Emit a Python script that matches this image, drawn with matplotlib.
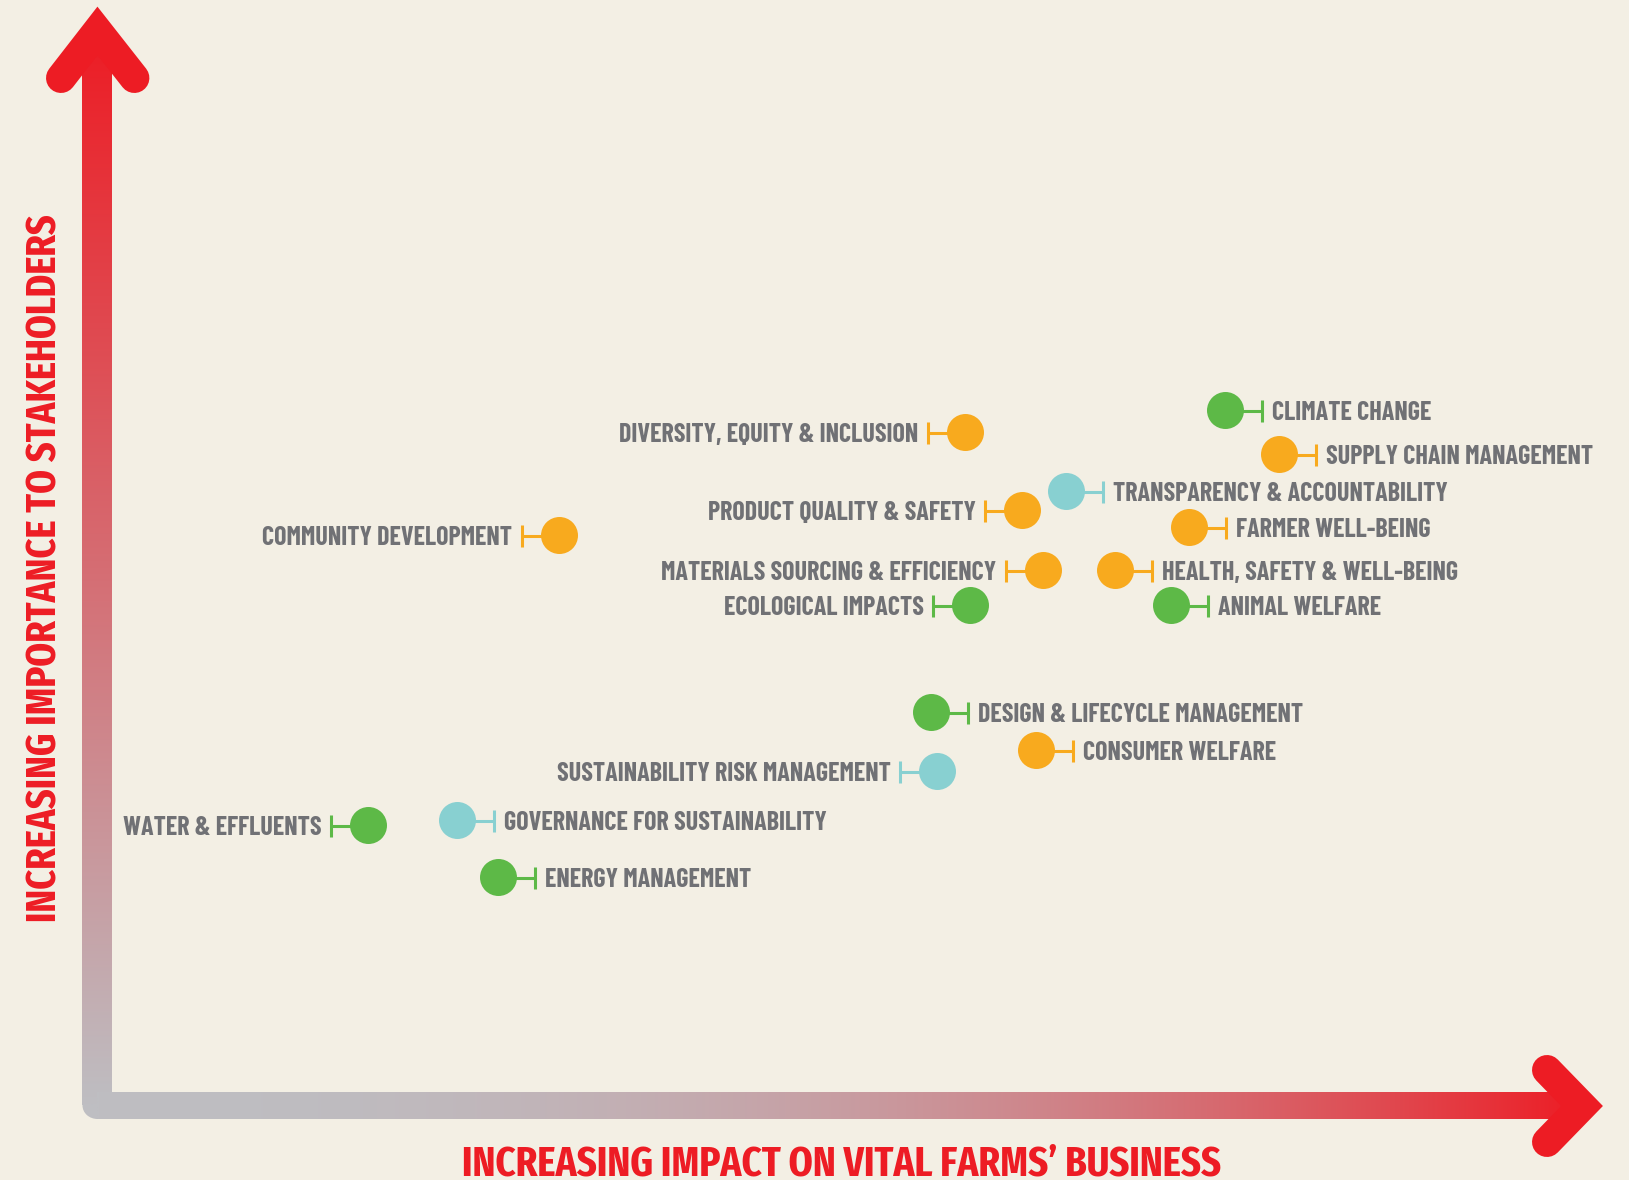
import numpy as np
import matplotlib.pyplot as plt
from matplotlib.patches import Ellipse

# materiality matrix: impact on business (x) vs importance to stakeholders (y)
topics = ['CLIMATE CHANGE', 'SUPPLY CHAIN MANAGEMENT', 'TRANSPARENCY & ACCOUNTABILITY',
          'FARMER WELL-BEING', 'HEALTH, SAFETY & WELL-BEING', 'ANIMAL WELFARE',
          'DESIGN & LIFECYCLE MANAGEMENT', 'CONSUMER WELFARE', 'GOVERNANCE FOR SUSTAINABILITY',
          'ENERGY MANAGEMENT', 'DIVERSITY, EQUITY & INCLUSION', 'PRODUCT QUALITY & SAFETY',
          'COMMUNITY DEVELOPMENT', 'MATERIALS SOURCING & EFFICIENCY', 'ECOLOGICAL IMPACTS',
          'SUSTAINABILITY RISK MANAGEMENT', 'WATER & EFFLUENTS']
impact = [1128, 1182, 969, 1092, 1018, 1074, 834, 939, 360, 401,
          868, 925, 462, 946, 873, 840, 271]
importance = [695, 651, 614, 578, 535, 500, 393, 355, 285, 228,
              673, 595, 570, 535, 500, 334, 280]
group = ['env', 'soc', 'gov', 'soc', 'soc', 'env', 'env', 'soc', 'gov', 'env',
         'soc', 'soc', 'soc', 'soc', 'env', 'gov', 'env']
label_side = ['r', 'r', 'r', 'r', 'r', 'r', 'r', 'r', 'r', 'r',
              'l', 'l', 'l', 'l', 'l', 'l', 'l']

colors = {'env': '#5DB947', 'soc': '#F8AA1E', 'gov': '#88D0D1'}
bg = '#F3EFE4'
red = np.array([237, 28, 36]) / 255
grey = np.array([190, 190, 194]) / 255
text_grey = '#707175'
label_font = ['Barlow Condensed', 'Liberation Sans Narrow', 'DejaVu Sans']
title_font = ['Fira Sans Extra Condensed', 'Barlow Condensed', 'DejaVu Sans']

fig = plt.figure(figsize=(16.29, 11.80), dpi=100, facecolor=bg)
ax = fig.add_axes([0, 0, 1, 1])
ax.set_facecolor(bg)
ax.axis('off')

# --- axes arrows with gradient ---
t = np.linspace(0, 1, 400)
fv = t
vert = grey + (red - grey) * fv[:, None]
ax.imshow(vert[:, None, :], extent=[-15, 15, 0, 1075], origin='lower',
          interpolation='bilinear', aspect='auto', zorder=1)
fh = t ** 2.3
horz = grey + (red - grey) * fh[:, None]
ax.imshow(horz[None, :, :], extent=[0, 1486, -13.5, 13.5], origin='lower',
          interpolation='bilinear', aspect='auto', zorder=1)
ax.add_patch(Ellipse((0, 0), 30, 27, color=grey, zorder=0.9, lw=0))

lw_head = 30 * 0.72
ax.plot([-36.5, 0, 36.9], [1027.5, 1074.5, 1027.5], color=red, lw=lw_head,
        solid_joinstyle='miter', solid_capstyle='round', zorder=2)
ax.plot([1449.5, 1484.5, 1449.5], [35.5, -0.5, -36.5], color=red, lw=lw_head,
        solid_joinstyle='miter', solid_capstyle='round', zorder=2)

ax.text(744, -70, 'INCREASING IMPACT ON VITAL FARMS’ BUSINESS', color='#ED1C24',
        fontsize=30.3, fontweight='bold', family=title_font, ha='center', va='baseline')
ax.text(-52.5, 537, 'INCREASING IMPORTANCE TO STAKEHOLDERS', color='#ED1C24',
        fontsize=30, fontweight='bold', family=title_font, ha='center', va='center',
        rotation=90, rotation_mode='anchor')

# --- topics ---
stem = 37
gap = 10
fs = 18.8
cap_half = fs / 0.72 * 0.70 / 2
for name, x, y, g, s in zip(topics, impact, importance, group, label_side):
    c = colors[g]
    d = stem if s == 'r' else -stem
    ax.plot([x, x + d], [y, y], color=c, lw=2.2, solid_capstyle='butt', zorder=3)
    ax.plot([x + d, x + d], [y - 11, y + 11], color=c, lw=2.2, solid_capstyle='butt', zorder=3)
    if s == 'r':
        ax.text(x + d + gap, y - cap_half, name, color=text_grey, fontsize=fs,
                fontweight='bold', family=label_font, ha='left', va='baseline', zorder=5)
    else:
        ax.text(x + d - gap, y - cap_half, name, color=text_grey, fontsize=fs,
                fontweight='bold', family=label_font, ha='right', va='baseline', zorder=5)

ax.scatter(impact, importance, s=(37 * 0.72) ** 2, c=[colors[g] for g in group],
           linewidths=0, zorder=4)

ax.set_xlim(-97.5, 1531.5)
ax.set_ylim(-74.5, 1105.5)

fig.savefig('out.png', dpi=100, facecolor=bg)
